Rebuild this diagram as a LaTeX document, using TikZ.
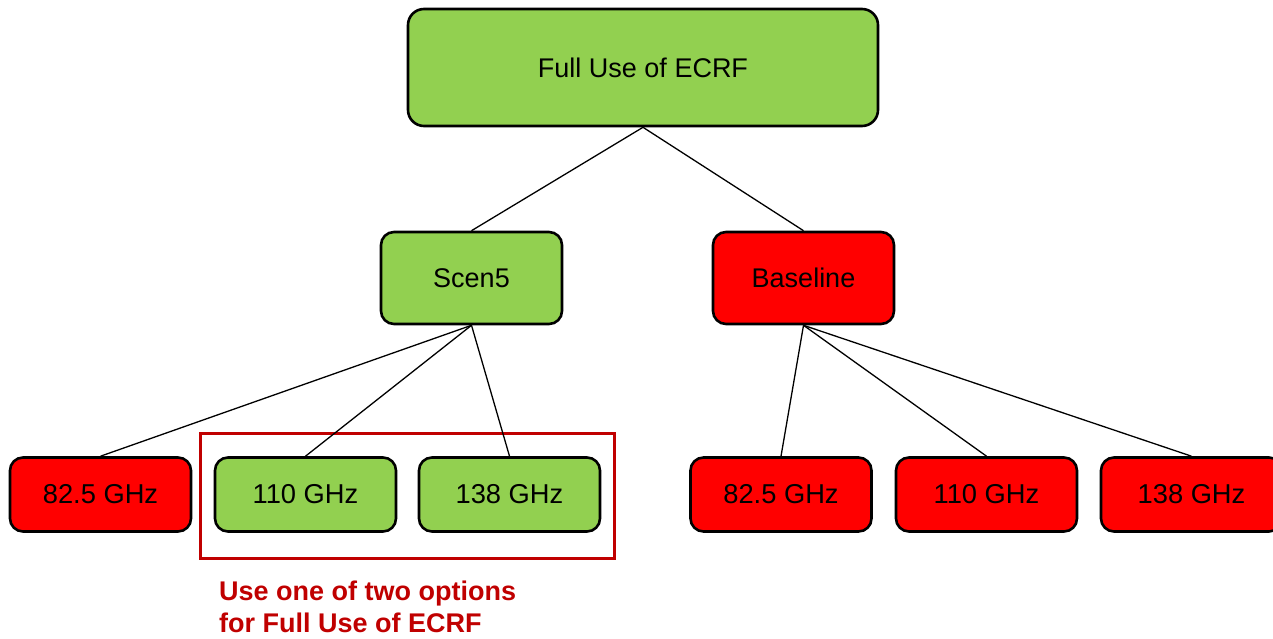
\documentclass[tikz,border=0pt]{standalone}
\usepackage{fontspec}
\setmainfont{Liberation Sans}
\definecolor{boxgreen}{HTML}{92D050}
\definecolor{boxred}{HTML}{FF0000}
\definecolor{darkred}{HTML}{C00000}
\begin{document}
\begin{tikzpicture}[x=1pt,y=-1pt,
  box/.style={draw=black,line width=2.6pt,rounded corners=13pt,inner sep=0pt,
    minimum width=181pt,minimum height=74pt,font=\fontsize{27.3}{30}\selectfont},
  mid/.style={box,minimum height=92pt,font=\fontsize{27}{30}\selectfont},
  gbox/.style={fill=boxgreen},
  rbox/.style={fill=boxred},
  link/.style={draw=black,line width=1.3pt}]
\useasboundingbox (0,0) rectangle (1273,639);
\clip (0,0) rectangle (1273,639);
\node[box,gbox,minimum width=470pt,minimum height=117pt,rounded corners=16pt,font=\fontsize{27}{30}\selectfont] (top) at (643,67.5) {Full Use of ECRF};
\node[mid,gbox] (scen) at (471.5,278) {Scen5};
\node[mid,rbox] (base) at (803.5,278) {Baseline};
\node[box,rbox] (a1) at (100.5,494.5) {82.5 GHz};
\node[box,gbox] (a2) at (305.5,494.5) {110 GHz};
\node[box,gbox] (a3) at (509.5,494.5) {138 GHz};
\node[box,rbox] (b1) at (781,494.5) {82.5 GHz};
\node[box,rbox] (b2) at (986.5,494.5) {110 GHz};
\node[box,rbox] (b3) at (1191.5,494.5) {138 GHz};
\node[draw=darkred,line width=3pt,minimum width=414pt,minimum height=125pt,inner sep=0pt] (frame) at (407,495.5) {};
\node[anchor=base west,align=left,text=darkred,font=\fontsize{27}{32}\selectfont\bfseries,inner sep=0pt] (note) at (219,632) {Use one of two options\\for Full Use of ECRF};
\draw[link] (top.south) -- (scen.north);
\draw[link] (top.south) -- (base.north);
\draw[link] (scen.south) -- (a1.north);
\draw[link] (scen.south) -- (a2.north);
\draw[link] (scen.south) -- (a3.north);
\draw[link] (base.south) -- (b1.north);
\draw[link] (base.south) -- (b2.north);
\draw[link] (base.south) -- (b3.north);
\end{tikzpicture}
\end{document}
